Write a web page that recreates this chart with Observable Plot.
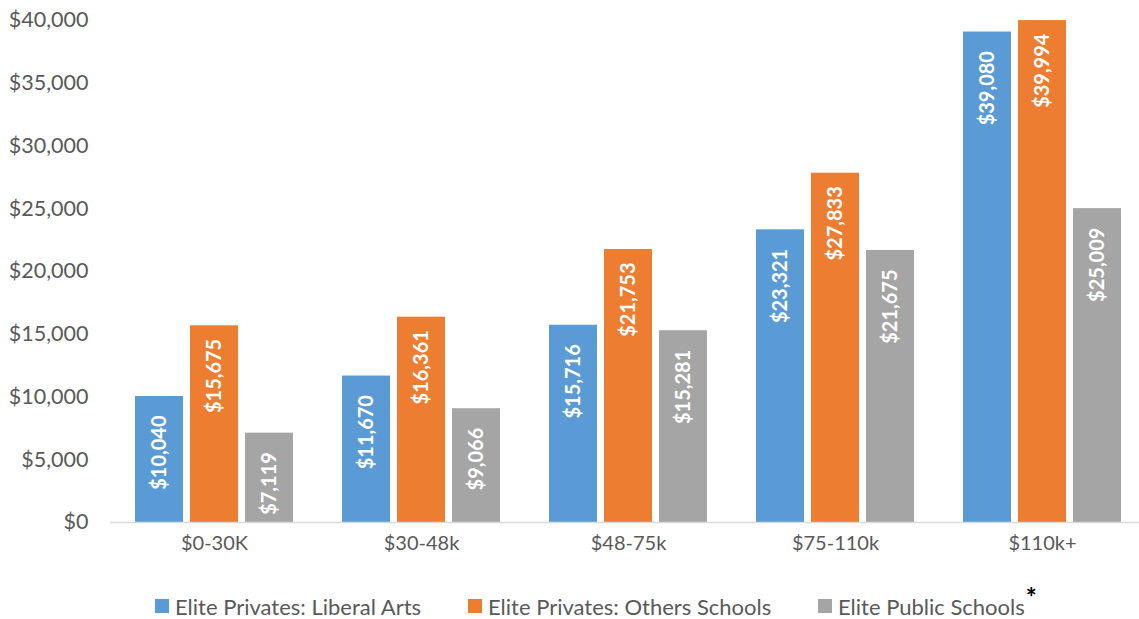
<!DOCTYPE html>
<html>
<head>
<meta charset="utf-8">
<script src="https://cdn.jsdelivr.net/npm/d3@7"></script>
<script src="https://cdn.jsdelivr.net/npm/@observablehq/plot@0.6"></script>
<style>
  body { margin: 0; background: #fff; font-family: Lato, "Open Sans", sans-serif; }
  #chart svg { display: block; }
  .legend { position: relative; height: 44px; color: #595959; font-size: 22px; }
  .item { position: absolute; top: 9px; height: 44px; display: flex; align-items: center; white-space: nowrap; }
  .sw { width: 14px; height: 14px; margin-right: 6px; }
  .ast { color: #000; font-weight: bold; font-size: 26px; position: relative; top: -9px; margin-left: 1px; }
</style>
</head>
<body>
<div id="chart"></div>
<div class="legend" id="legend"></div>
<script>
const groups = ["$0-30K", "$30-48k", "$48-75k", "$75-110k", "$110k+"];
const seriesNames = ["Elite Privates: Liberal Arts", "Elite Privates: Others Schools", "Elite Public Schools"];
const liberalArts = [10040, 11670, 15716, 23321, 39080];
const otherSchools = [15675, 16361, 21753, 27833, 39994];
const publicSchools = [7119, 9066, 15281, 21675, 25009];
const yTicks = [0, 5000, 10000, 15000, 20000, 25000, 30000, 35000, 40000];
const colors = ["#5B9BD5", "#ED7D31", "#A5A5A5"];

const seriesValues = [liberalArts, otherSchools, publicSchools];
const rows = seriesValues.map(vals => groups.map((g, i) => ({group: g, value: vals[i]})));

const fmt = v => "$" + d3.format(",")(v);
const insets = [[0, 110], [55, 55], [110, 0]];
const offsets = [-55, 0, 55];
const labelDy = [19, 13, 19];
const legendLeft = [155, 468, 818];

const marks = [];
rows.forEach((data, k) => {
  marks.push(Plot.barY(data, {
    x: "group", y: "value", fill: colors[k],
    insetLeft: insets[k][0], insetRight: insets[k][1]
  }));
});
marks.push(Plot.ruleY([0], {stroke: "#D9D9D9", strokeWidth: 1.5}));
rows.forEach((data, k) => {
  marks.push(Plot.text(data, {
    x: "group", y: "value", text: d => fmt(d.value),
    rotate: -90, textAnchor: "end", lineAnchor: "middle",
    dx: offsets[k], dy: labelDy[k], fill: "white", fontWeight: "bold", fontSize: 20
  }));
});

const chart = Plot.plot({
  width: 1139,
  height: 575,
  marginLeft: 110,
  marginRight: 0,
  marginTop: 20,
  marginBottom: 53,
  style: {fontFamily: "Lato, 'Open Sans', sans-serif", fontSize: "20px", color: "#595959", background: "white"},
  x: {domain: groups, range: [110, 1146], paddingInner: 0.237, paddingOuter: 0.12, tickSize: 0, tickPadding: 13, label: null},
  y: {domain: [0, 40000], ticks: yTicks, tickFormat: fmt, tickSize: 0, tickPadding: 22, label: null},
  marks
});
chart.querySelectorAll("g[aria-label='y-axis tick label'] text, g[aria-label='y-axis'] text").forEach(t => t.setAttribute("font-size", "21.5"));
document.getElementById("chart").appendChild(chart);

const legend = document.getElementById("legend");
seriesNames.forEach((name, k) => {
  const item = document.createElement("div");
  item.className = "item";
  item.style.left = legendLeft[k] + "px";
  const sw = document.createElement("span");
  sw.className = "sw";
  sw.style.background = colors[k];
  const label = document.createElement("span");
  label.textContent = name;
  item.appendChild(sw);
  item.appendChild(label);
  if (k === 2) {
    const a = document.createElement("span");
    a.className = "ast";
    a.textContent = "*";
    item.appendChild(a);
  }
  legend.appendChild(item);
});
</script>
</body>
</html>
